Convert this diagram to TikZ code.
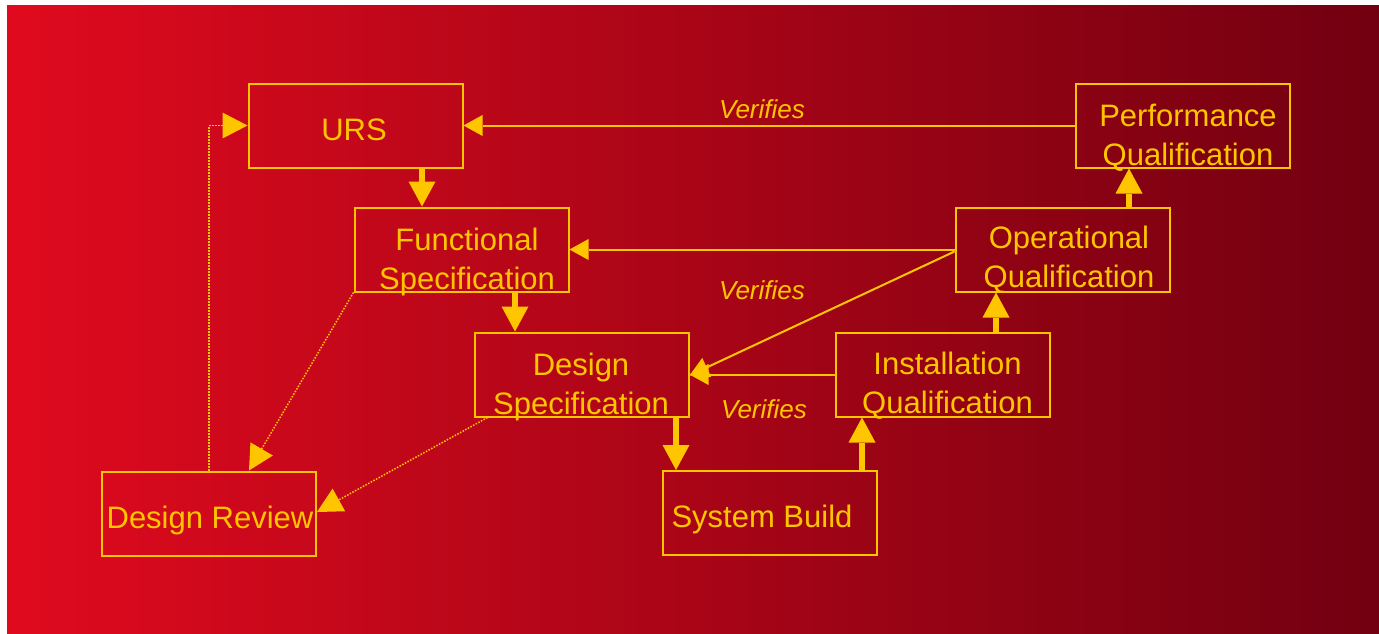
\documentclass[tikz,border=0pt]{standalone}
\usepackage{fontspec}
\setmainfont{Liberation Sans}
\usetikzlibrary{arrows.meta}
\definecolor{bgL}{RGB}{224,10,30}
\definecolor{bgR}{RGB}{114,0,16}
\definecolor{gold}{RGB}{255,198,0}
\begin{document}
\begin{tikzpicture}[x=1pt,y=-1pt,
 box/.style={draw=gold, line width=2pt, minimum width=214pt, minimum height=84pt, inner sep=0pt},
 lbl/.style={text=gold, font=\fontsize{31}{39}\selectfont, align=center, inner sep=0pt},
 vlbl/.style={text=gold, font=\fontsize{26}{30}\selectfont\itshape, inner sep=0pt},
 flow/.style={draw=gold, line width=6pt, -{Triangle[length=25pt,width=27pt,line width=0pt,fill=gold]}},
 verif/.style={draw=gold, line width=2pt, -{Triangle[length=19pt,width=21pt,line width=0pt,fill=gold]}},
 review/.style={draw=gold, line width=1.5pt, dash pattern=on 1.5pt off 1.5pt, -{Triangle[length=25pt,width=26pt,line width=0pt,fill=gold]}},
]
\useasboundingbox (0,0) rectangle (1379,633);
\fill[white] (0,0) rectangle (1379,633);
\shade[left color=bgL, right color=bgR] (7,5) rectangle (1379,633);

% boxes
\node[box] (urs) at (355.5,125.5) {};
\node[box] (fs) at (461.5,249.5) {};
\node[box] (ds) at (581.5,374.5) {};
\node[box] (dr) at (209,513.5) {};
\node[box] (sb) at (769.5,513) {};
\node[box] (iq) at (943,374.5) {};
\node[box] (oq) at (1062.5,249.5) {};
\node[box] (pq) at (1182.5,125.5) {};

% flow arrows
\draw[flow] ([xshift=-39.5pt]fs.north |- urs.south) -- ([xshift=-39.5pt]fs.north);
\draw[flow] ([xshift=-66.5pt]ds.north |- fs.south) -- ([xshift=-66.5pt]ds.north);
\draw[flow] ([xshift=-93.5pt]sb.north |- ds.south) -- ([xshift=-93.5pt]sb.north);
\draw[flow] ([xshift=-81pt]iq.south |- sb.north) -- ([xshift=-81pt]iq.south);
\draw[flow] ([xshift=-66.5pt]oq.south |- iq.north) -- ([xshift=-66.5pt]oq.south);
\draw[flow] ([xshift=-53.5pt]pq.south |- oq.north) -- ([xshift=-53.5pt]pq.south);

% verifies
\draw[verif] (pq.west) -- (urs.east);
\draw[verif] (oq.west) -- (fs.east);
\draw[verif] ([yshift=-2pt]oq.west) -- ([yshift=-1pt]ds.east);
\draw[verif] (iq.west) -- (ds.east);

% reviews
\draw[review] (dr.north) |- (urs.west);
\draw[review] (fs.south west) -- ([xshift=40pt]dr.north);
\draw[review] ([xshift=-94pt]ds.south) -- ([yshift=1.5pt]dr.east);

% texts
\node[lbl, anchor=base] (ursT) at (354,140) {URS};
\node[lbl] (fsT) at (467,262.5) {\strut Functional\\\strut Specification};
\node[lbl] (dsT) at (581,387.5) {\strut Design\\\strut Specification};
\node[lbl, anchor=base] (drT) at (210,528) {Design Review};
\node[lbl, anchor=base] (sbT) at (762,527) {System Build};
\node[lbl] (iqT) at (947.5,386.5) {\strut Installation\\\strut Qualification};
\node[lbl] (oqT) at (1069,260.5) {\strut Operational\\\strut Qualification};
\node[lbl] (pqT) at (1188,138.5) {\strut Performance\\\strut Qualification};

\node[vlbl] (v1) at (762,109) {Verifies};
\node[vlbl] (v2) at (762,290) {Verifies};
\node[vlbl] (v3) at (764,409) {Verifies};
\end{tikzpicture}
\end{document}
